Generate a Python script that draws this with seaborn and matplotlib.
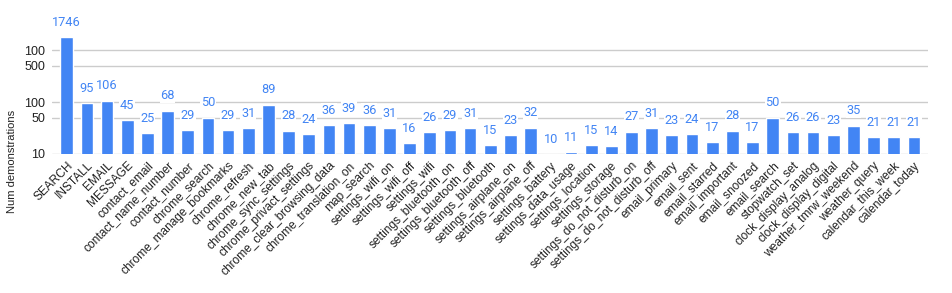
import matplotlib
matplotlib.use("Agg")
import matplotlib.pyplot as plt
import matplotlib.ticker as mtick
import pandas as pd
import seaborn as sns

categories = [
    "SEARCH", "INSTALL", "EMAIL", "MESSAGE", "contact_email", "contact_name_number",
    "contact_number", "chrome_search", "chrome_manage_bookmarks", "chrome_refresh",
    "chrome_new_tab", "chrome_sync_settings", "chrome_privact_settings",
    "chrome_clear_browsing_data", "chrome_translation_on", "map_search",
    "settings_wifi_on", "settings_wifi_off", "settings_wifi", "settings_bluetooth_on",
    "settings_bluetooth_off", "settings_bluetooth", "settings_airplane_on",
    "settings_airplane_off", "settings_battery", "settings_data_usage",
    "settings_location", "settings_storage", "settings_do_not_disturb_on",
    "settings_do_not_disturb_off", "email_primary", "email_sent", "email_starred",
    "email_important", "email_snoozed", "email_search", "stopwatch_set",
    "clock_display_analog", "clock_display_digital", "weather_tmrw_weekend",
    "weather_query", "calendar_this_week", "calendar_today",
]
counts = [
    1746, 95, 106, 45, 25, 68, 29, 50, 29, 31, 89, 28, 24, 36, 39, 36, 31, 16, 26,
    29, 31, 15, 23, 32, 10, 11, 15, 14, 27, 31, 23, 24, 17, 28, 17, 50, 26, 26,
    23, 35, 21, 21, 21,
]
yticks = [10, 50, 100, 500, 1000]
ytickLabels = ["10", "50", "100", "500", "100"]

barColor = "#4285F4"
textColor = "#222222"

df = pd.DataFrame({"task": categories, "count": counts})

sns.set_style("white")
plt.rcParams["font.family"] = ["Liberation Sans", "DejaVu Sans"]

W, H = 952, 293
fig = plt.figure(figsize=(W / 100, H / 100), dpi=100, facecolor="white")
ax = fig.add_axes([52 / W, (H - 154) / H, (928 - 52) / W, 144 / H])

g = sns.barplot(ax=ax, data=df, x="task", y="count", color=barColor, width=0.63,
                saturation=1, zorder=3)
ax.set_yscale("log")
ax.set_ylim(10, 5900)
ax.set_xlim(-0.73, 42.7)

ax.yaxis.set_major_locator(mtick.FixedLocator(yticks))
ax.yaxis.set_minor_locator(mtick.NullLocator())
ax.set_yticklabels(ytickLabels)
ax.grid(axis="y", color="#cccccc", linewidth=1, zorder=0)
for s in ["top", "right", "left", "bottom"]:
    ax.spines[s].set_visible(False)

ax.tick_params(axis="y", length=0, pad=5, labelsize=9, labelcolor=textColor)
ax.tick_params(axis="x", length=0, pad=4, labelsize=8.6, labelcolor=textColor)
plt.setp(ax.get_xticklabels(), rotation=45, ha="right", rotation_mode="anchor")

ax.bar_label(ax.containers[0], labels=[str(c) for c in counts], padding=6,
             fontsize=9.2, color=barColor, family="Roboto",
             bbox=dict(facecolor="white", edgecolor="none", pad=0.5))

ax.set_xlabel("")
ax.set_ylabel("")
fig.text(12 / W, 1 - 161 / H, "Num demonstrations", rotation=90, ha="center",
         va="center", fontsize=8, color=textColor)

fig.savefig("out.png", dpi=100, facecolor="white")
